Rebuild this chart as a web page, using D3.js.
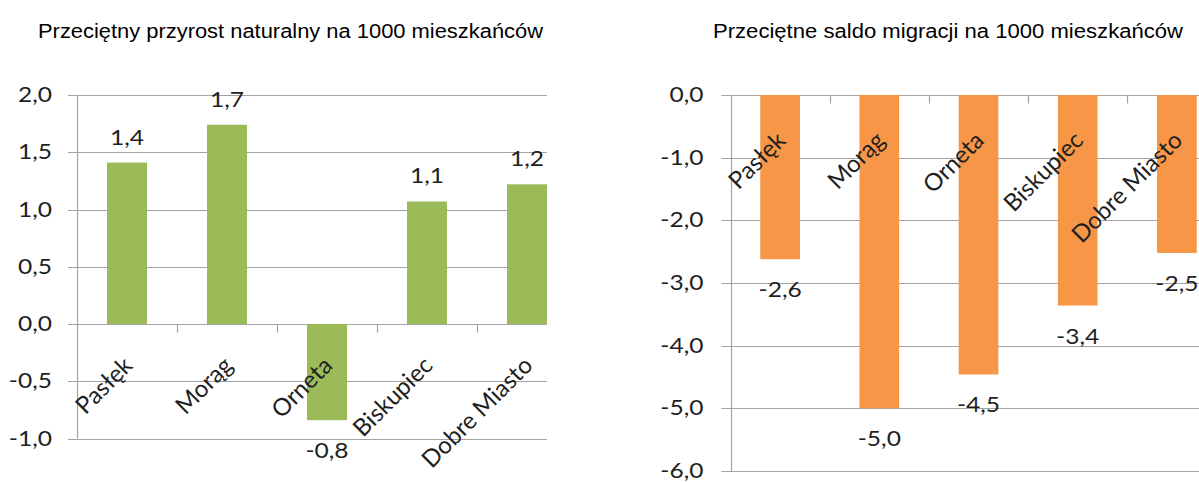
<!DOCTYPE html>
<html><head><meta charset="utf-8">
<script src="https://cdn.jsdelivr.net/npm/d3@7"></script>
<style>
html,body{margin:0;padding:0;background:#fff;}
svg{display:block;}
</style></head>
<body>
<svg id="chart" width="1199" height="482"></svg>
<script>
const categories = ["Pasłęk", "Morąg", "Orneta", "Biskupiec", "Dobre Miasto"];
const naturalGrowth = [1.41, 1.74, -0.84, 1.07, 1.22];
const migrationBalance = [-2.62, -5.0, -4.46, -3.36, -2.52];
const leftTicks = [2.0, 1.5, 1.0, 0.5, 0.0, -0.5, -1.0];
const rightTicks = [0, -1, -2, -3, -4, -5, -6];
const titles = ["Przeciętny przyrost naturalny na 1000 mieszkańców", "Przeciętne saldo migracji na 1000 mieszkańców"];

const svg = d3.select("#chart");
const fmt = v => v.toFixed(1).replace(".", ",");
const LBL = "Lato, 'Open Sans', sans-serif";
const GRID = "#a3a3a3";
const SX = 1.17;

function panel(cfg) {
  const g = svg.append("g");
  const clipId = "clip" + cfg.id;
  svg.append("defs").append("clipPath").attr("id", clipId)
    .append("rect").attr("x", cfg.x0 - 12).attr("y", 0).attr("width", cfg.clipRight - (cfg.x0 - 12)).attr("height", 482);

  const x = d3.scaleBand().domain(categories).range([cfg.x0, cfg.x0 + cfg.plotW]).paddingInner(0.6).paddingOuter(0.3);
  const y = d3.scaleLinear().domain(cfg.domain).range(cfg.yRange);
  const clipped = g.append("g").attr("clip-path", `url(#${clipId})`);

  clipped.selectAll("line.grid").data(cfg.ticks).join("line")
    .attr("x1", cfg.x0 - 9).attr("x2", cfg.x0 + cfg.plotW)
    .attr("y1", d => Math.round(y(d)) + 0.5).attr("y2", d => Math.round(y(d)) + 0.5)
    .attr("stroke", GRID).attr("stroke-width", 1.2);

  g.append("line").attr("x1", Math.round(cfg.x0) + 0.5).attr("x2", Math.round(cfg.x0) + 0.5)
    .attr("y1", y(cfg.domain[1])).attr("y2", y(cfg.domain[0]))
    .attr("stroke", GRID).attr("stroke-width", 1.2);

  const zeroY = Math.round(y(0)) + 0.5;
  const bounds = categories.slice(1).map(c => x(c) - x.step() * x.paddingInner() / 2);
  clipped.selectAll("line.ctick").data(bounds).join("line")
    .attr("x1", d => Math.round(d) + 0.5).attr("x2", d => Math.round(d) + 0.5)
    .attr("y1", zeroY).attr("y2", zeroY + 8)
    .attr("stroke", GRID).attr("stroke-width", 1.2);

  clipped.selectAll("rect.bar").data(cfg.values).join("rect")
    .attr("x", (d, i) => x(categories[i]))
    .attr("width", x.bandwidth())
    .attr("y", d => y(Math.max(0, d)))
    .attr("height", d => Math.abs(y(d) - y(0)))
    .attr("fill", cfg.color);

  g.selectAll("text.ytick").data(cfg.ticks).join("text")
    .attr("transform", d => `translate(${cfg.x0 - cfg.labelGap},${y(d) + 7}) scale(${SX},1)`)
    .attr("text-anchor", "end")
    .attr("font-family", LBL).attr("font-size", 21).attr("fill", "#1f1f1f")
    .text(fmt);

  g.selectAll("text.dl").data(cfg.values).join("text")
    .attr("transform", (d, i) => `translate(${x(categories[i]) + x.bandwidth() / 2},${d >= 0 ? y(d) - 18 : y(d) + 38}) scale(${SX},1)`)
    .attr("text-anchor", "middle")
    .attr("font-family", LBL).attr("font-size", 21).attr("fill", "#1f1f1f")
    .text(d => fmt(Math.round(d * 10) / 10));

  g.selectAll("text.cat").data(categories).join("text")
    .attr("transform", c => `translate(${x(c) + x.bandwidth() / 2 + 7},${y(0) + cfg.catDy}) rotate(-45)`)
    .attr("text-anchor", "end")
    .attr("font-family", LBL).attr("font-size", 24).attr("fill", "#1f1f1f")
    .text(c => c);

  g.append("text").attr("x", cfg.titleX).attr("y", 38)
    .attr("text-anchor", "middle")
    .attr("font-family", "'Liberation Sans', Arial, sans-serif").attr("font-size", 19.5).attr("fill", "#000")
    .attr("textLength", cfg.titleW).attr("lengthAdjust", "spacingAndGlyphs")
    .text(cfg.title);
}

panel({id: "L", x0: 77, plotW: 500, clipRight: 547, domain: [-1, 2], yRange: [438.5, 95],
  ticks: leftTicks, values: naturalGrowth, color: "#9bbb59", labelGap: 25, catDy: 43,
  titleX: 290.5, titleW: 505, title: titles[0]});
panel({id: "R", x0: 730.5, plotW: 496, clipRight: 1199, domain: [-6, 0], yRange: [471, 95],
  ticks: rightTicks, values: migrationBalance, color: "#f79646", labelGap: 27, catDy: 47,
  titleX: 948, titleW: 470, title: titles[1]});
</script>
</body></html>
